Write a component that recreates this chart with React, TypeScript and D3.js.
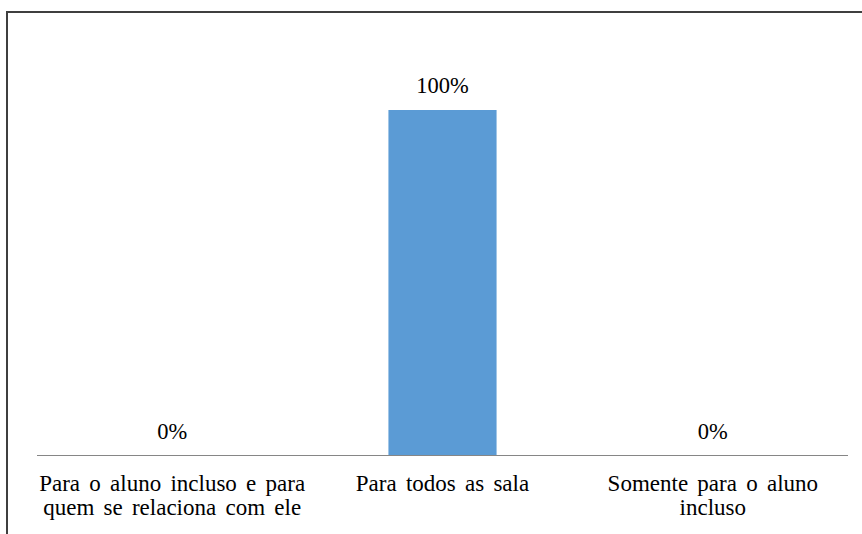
import React from "react";
import * as d3 from "d3";

// Survey answers and their shares (percent)
const categories: string[][] = [
  ["Para o aluno incluso e para", "quem se relaciona com ele"],
  ["Para todos as sala"],
  ["Somente para o aluno", "incluso"],
];
const values: number[] = [0, 100, 0];
const valueLabels: string[] = ["0%", "100%", "0%"];

const W = 862;
const H = 534;
const FONT = '"Times New Roman"';

export default function App() {
  const plot = { left: 37, right: 848, top: 110, bottom: 455.5 };

  const x = d3
    .scaleBand<number>()
    .domain(d3.range(values.length))
    .range([plot.left, plot.right])
    .paddingInner(0.6)
    .paddingOuter(0.3);

  const y = d3.scaleLinear().domain([0, 100]).range([plot.bottom, plot.top]);

  const cx = (i: number) => (x(i) ?? 0) + x.bandwidth() / 2;

  return (
    <svg width={W} height={H} style={{ position: "absolute", left: 0, top: 0 }}>
      {/* chart frame */}
      <path d={`M7,${H} V12 H${W}`} fill="none" stroke="#3f3f3f" strokeWidth={2} />

      {/* bars */}
      {values.map((v, i) => (
        <rect
          key={i}
          x={x(i)}
          y={y(v)}
          width={x.bandwidth()}
          height={plot.bottom - y(v)}
          fill="#5B9BD5"
        />
      ))}

      {/* category axis */}
      <line x1={plot.left} x2={plot.right} y1={plot.bottom} y2={plot.bottom} stroke="#868686" strokeWidth={1.2} />

      {/* value labels */}
      {values.map((v, i) => (
        <text
          key={i}
          x={cx(i)}
          y={y(v) - 17}
          textAnchor="middle"
          fontSize={22.5}
          style={{ fontFamily: FONT }}
        >
          {valueLabels[i]}
        </text>
      ))}

      {/* category labels */}
      {categories.map((lines, i) => (
        <text
          key={i}
          x={cx(i)}
          y={491}
          textAnchor="middle"
          fontSize={23}
          style={{ fontFamily: FONT, wordSpacing: 3.5 }}
        >
          {lines.map((l, j) => (
            <tspan key={j} x={cx(i)} dy={j === 0 ? 0 : 24}>
              {l}
            </tspan>
          ))}
        </text>
      ))}
    </svg>
  );
}
